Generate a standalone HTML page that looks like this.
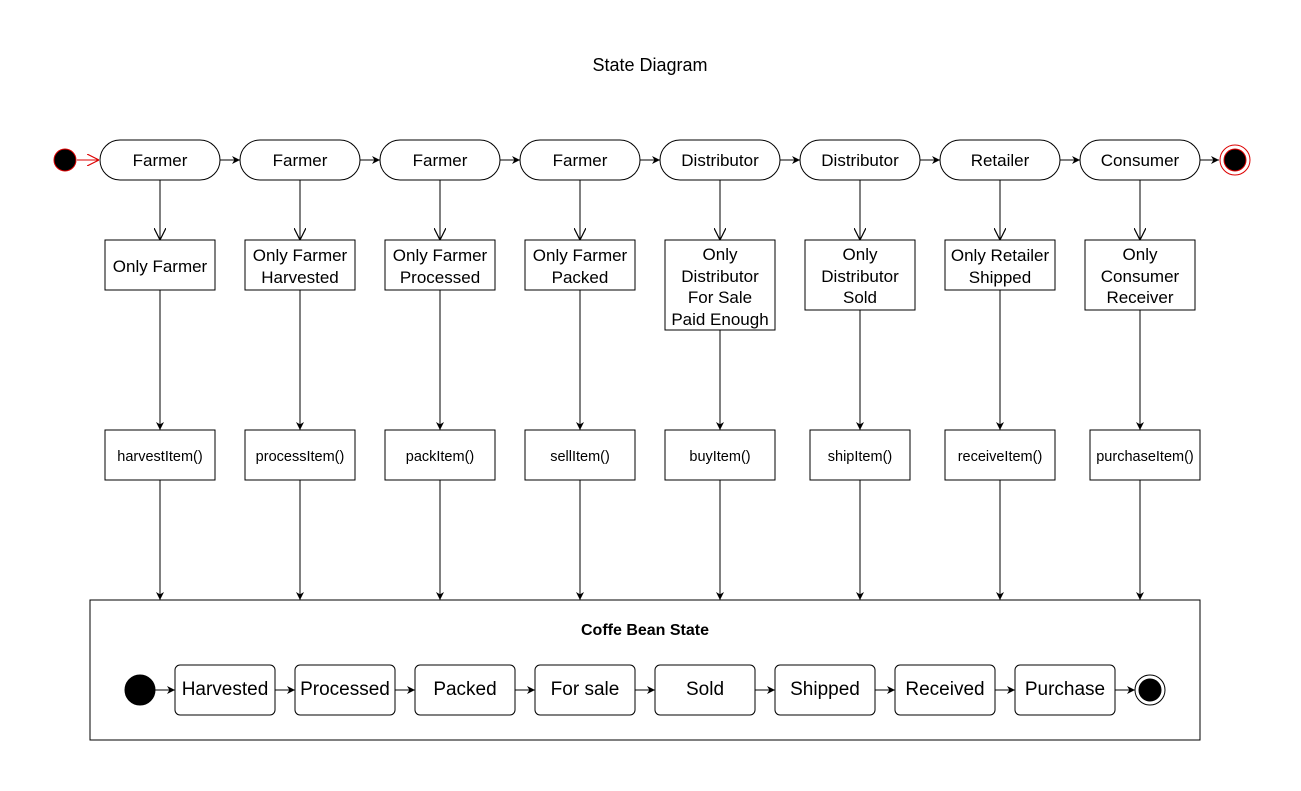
<!DOCTYPE html>
<html><head><meta charset="utf-8"><style>
html,body{margin:0;padding:0;background:#fff;}
svg, svg text{font-family:"Liberation Sans",Arial,sans-serif;}
svg{display:block;}
</style></head><body>
<svg width="1301" height="791" viewBox="0 0 1301 791" xmlns="http://www.w3.org/2000/svg" font-family="Liberation Sans, sans-serif">
<defs>
<marker id="f" viewBox="0 0 10 10" refX="10" refY="5" markerWidth="8" markerHeight="8" orient="auto" markerUnits="userSpaceOnUse"><path d="M0,0 L10,5 L0,10 L3,5 z" fill="#000"/></marker>
<marker id="o" viewBox="0 0 10 10" refX="10" refY="5" markerWidth="12" markerHeight="12" orient="auto" markerUnits="userSpaceOnUse"><path d="M0,0 L10,5 L0,10" fill="none" stroke="#000" stroke-width="1"/></marker>
<marker id="or" viewBox="0 0 10 10" refX="10" refY="5" markerWidth="12" markerHeight="12" orient="auto" markerUnits="userSpaceOnUse"><path d="M0,0 L10,5 L0,10" fill="none" stroke="#d00" stroke-width="1"/></marker>
</defs>
<rect width="1301" height="791" fill="#fff"/>
<text x="650" y="71" font-size="18" text-anchor="middle">State Diagram</text>

<g stroke="#000" stroke-width="1" fill="#fff">
<circle cx="65" cy="160" r="11" fill="#000" stroke="#d00"/>
<line x1="77" y1="160" x2="99" y2="160" stroke="#d00" marker-end="url(#or)"/>
<rect x="100" y="140" width="120" height="40" rx="20"/>
<rect x="240" y="140" width="120" height="40" rx="20"/>
<rect x="380" y="140" width="120" height="40" rx="20"/>
<rect x="520" y="140" width="120" height="40" rx="20"/>
<rect x="660" y="140" width="120" height="40" rx="20"/>
<rect x="800" y="140" width="120" height="40" rx="20"/>
<rect x="940" y="140" width="120" height="40" rx="20"/>
<rect x="1080" y="140" width="120" height="40" rx="20"/>
<line x1="220" y1="160" x2="240" y2="160" marker-end="url(#f)"/>
<line x1="360" y1="160" x2="380" y2="160" marker-end="url(#f)"/>
<line x1="500" y1="160" x2="520" y2="160" marker-end="url(#f)"/>
<line x1="640" y1="160" x2="660" y2="160" marker-end="url(#f)"/>
<line x1="780" y1="160" x2="800" y2="160" marker-end="url(#f)"/>
<line x1="920" y1="160" x2="940" y2="160" marker-end="url(#f)"/>
<line x1="1060" y1="160" x2="1080" y2="160" marker-end="url(#f)"/>
<line x1="1200" y1="160" x2="1219" y2="160" marker-end="url(#f)"/>
<circle cx="1235" cy="160" r="15" fill="#fff" stroke="#d00"/>
<circle cx="1235" cy="160" r="11" fill="#000" stroke="#d00"/>

<line x1="160" y1="180" x2="160" y2="240" marker-end="url(#o)"/>
<line x1="300" y1="180" x2="300" y2="240" marker-end="url(#o)"/>
<line x1="440" y1="180" x2="440" y2="240" marker-end="url(#o)"/>
<line x1="580" y1="180" x2="580" y2="240" marker-end="url(#o)"/>
<line x1="720" y1="180" x2="720" y2="240" marker-end="url(#o)"/>
<line x1="860" y1="180" x2="860" y2="240" marker-end="url(#o)"/>
<line x1="1000" y1="180" x2="1000" y2="240" marker-end="url(#o)"/>
<line x1="1140" y1="180" x2="1140" y2="240" marker-end="url(#o)"/>

<rect x="105" y="240" width="110" height="50"/>
<rect x="245" y="240" width="110" height="50"/>
<rect x="385" y="240" width="110" height="50"/>
<rect x="525" y="240" width="110" height="50"/>
<rect x="665" y="240" width="110" height="90"/>
<rect x="805" y="240" width="110" height="70"/>
<rect x="945" y="240" width="110" height="50"/>
<rect x="1085" y="240" width="110" height="70"/>

<line x1="160" y1="290" x2="160" y2="430" marker-end="url(#f)"/>
<line x1="300" y1="290" x2="300" y2="430" marker-end="url(#f)"/>
<line x1="440" y1="290" x2="440" y2="430" marker-end="url(#f)"/>
<line x1="580" y1="290" x2="580" y2="430" marker-end="url(#f)"/>
<line x1="720" y1="330" x2="720" y2="430" marker-end="url(#f)"/>
<line x1="860" y1="310" x2="860" y2="430" marker-end="url(#f)"/>
<line x1="1000" y1="290" x2="1000" y2="430" marker-end="url(#f)"/>
<line x1="1140" y1="310" x2="1140" y2="430" marker-end="url(#f)"/>

<rect x="105" y="430" width="110" height="50"/>
<rect x="245" y="430" width="110" height="50"/>
<rect x="385" y="430" width="110" height="50"/>
<rect x="525" y="430" width="110" height="50"/>
<rect x="665" y="430" width="110" height="50"/>
<rect x="810" y="430" width="100" height="50"/>
<rect x="945" y="430" width="110" height="50"/>
<rect x="1090" y="430" width="110" height="50"/>

<line x1="160" y1="480" x2="160" y2="600" marker-end="url(#f)"/>
<line x1="300" y1="480" x2="300" y2="600" marker-end="url(#f)"/>
<line x1="440" y1="480" x2="440" y2="600" marker-end="url(#f)"/>
<line x1="580" y1="480" x2="580" y2="600" marker-end="url(#f)"/>
<line x1="720" y1="480" x2="720" y2="600" marker-end="url(#f)"/>
<line x1="860" y1="480" x2="860" y2="600" marker-end="url(#f)"/>
<line x1="1000" y1="480" x2="1000" y2="600" marker-end="url(#f)"/>
<line x1="1140" y1="480" x2="1140" y2="600" marker-end="url(#f)"/>

<rect x="90" y="600" width="1110" height="140"/>
<circle cx="140" cy="690" r="15" fill="#000"/>
<line x1="155" y1="690" x2="175" y2="690" marker-end="url(#f)"/>
<rect x="175" y="665" width="100" height="50" rx="5"/>
<rect x="295" y="665" width="100" height="50" rx="5"/>
<rect x="415" y="665" width="100" height="50" rx="5"/>
<rect x="535" y="665" width="100" height="50" rx="5"/>
<rect x="655" y="665" width="100" height="50" rx="5"/>
<rect x="775" y="665" width="100" height="50" rx="5"/>
<rect x="895" y="665" width="100" height="50" rx="5"/>
<rect x="1015" y="665" width="100" height="50" rx="5"/>
<line x1="275" y1="690" x2="295" y2="690" marker-end="url(#f)"/>
<line x1="395" y1="690" x2="415" y2="690" marker-end="url(#f)"/>
<line x1="515" y1="690" x2="535" y2="690" marker-end="url(#f)"/>
<line x1="635" y1="690" x2="655" y2="690" marker-end="url(#f)"/>
<line x1="755" y1="690" x2="775" y2="690" marker-end="url(#f)"/>
<line x1="875" y1="690" x2="895" y2="690" marker-end="url(#f)"/>
<line x1="995" y1="690" x2="1015" y2="690" marker-end="url(#f)"/>
<line x1="1115" y1="690" x2="1135" y2="690" marker-end="url(#f)"/>
<circle cx="1150" cy="690" r="15" fill="#fff"/>
<circle cx="1150" cy="690" r="11" fill="#000"/>
</g>

<g font-size="17" text-anchor="middle" fill="#000" font-family="Liberation Sans, sans-serif">
<text x="160" y="166">Farmer</text>
<text x="300" y="166">Farmer</text>
<text x="440" y="166">Farmer</text>
<text x="580" y="166">Farmer</text>
<text x="720" y="166">Distributor</text>
<text x="860" y="166">Distributor</text>
<text x="1000" y="166">Retailer</text>
<text x="1140" y="166">Consumer</text>

<text x="160" y="272">Only Farmer</text>
<text x="300" y="261">Only Farmer</text><text x="300" y="283">Harvested</text>
<text x="440" y="261">Only Farmer</text><text x="440" y="283">Processed</text>
<text x="580" y="261">Only Farmer</text><text x="580" y="283">Packed</text>
<text x="720" y="260">Only</text><text x="720" y="282">Distributor</text><text x="720" y="303">For Sale</text><text x="720" y="325">Paid Enough</text>
<text x="860" y="260">Only</text><text x="860" y="282">Distributor</text><text x="860" y="303">Sold</text>
<text x="1000" y="261">Only Retailer</text><text x="1000" y="283">Shipped</text>
<text x="1140" y="260">Only</text><text x="1140" y="282">Consumer</text><text x="1140" y="303">Receiver</text>
</g>
<g font-size="14.5" text-anchor="middle" fill="#000" font-family="Liberation Sans, sans-serif">
<text x="160" y="461">harvestItem()</text>
<text x="300" y="461">processItem()</text>
<text x="440" y="461">packItem()</text>
<text x="580" y="461">sellItem()</text>
<text x="720" y="461">buyItem()</text>
<text x="860" y="461">shipItem()</text>
<text x="1000" y="461">receiveItem()</text>
<text x="1145" y="461">purchaseItem()</text>
</g>
<text x="645" y="635" font-size="16" font-weight="bold" text-anchor="middle" font-family="Liberation Sans, sans-serif">Coffe Bean State</text>
<g font-size="19" text-anchor="middle" fill="#000" font-family="Liberation Sans, sans-serif">
<text x="225" y="695">Harvested</text>
<text x="345" y="695">Processed</text>
<text x="465" y="695">Packed</text>
<text x="585" y="695">For sale</text>
<text x="705" y="695">Sold</text>
<text x="825" y="695">Shipped</text>
<text x="945" y="695">Received</text>
<text x="1065" y="695">Purchase</text>
</g>
</svg>
</body></html>
